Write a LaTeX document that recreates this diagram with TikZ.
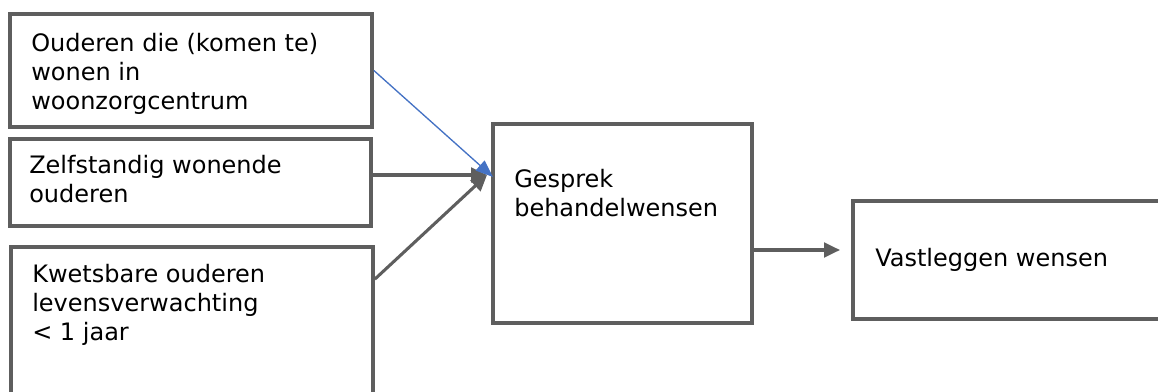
\documentclass[tikz,border=0pt]{standalone}
\usepackage{fontspec}
\setmainfont{DejaVu Sans}
\usetikzlibrary{fit,arrows.meta,calc}
\definecolor{linegray}{HTML}{5E5E5E}
\definecolor{arrowblue}{HTML}{4472C4}
\tikzset{
  box/.style={draw=linegray, line width=2.8pt, inner sep=0pt, rectangle},
  txt/.style={anchor=base west, inner sep=0pt, align=left, font=\fontsize{18}{21.75}\selectfont, text=black},
  grayarrow/.style={draw=linegray, line width=2.3pt, -{Triangle[length=12pt,width=11pt]}},
  bluearrow/.style={draw=arrowblue, line width=1pt, -{Triangle[length=13pt,width=10pt]}, arrowblue}
}
\begin{document}
\begin{tikzpicture}[x=0.75pt,y=-0.75pt]
\useasboundingbox (0,0) rectangle (1158,392);
\clip (0,0) rectangle (1158,392);
% boxes
\node[box, fit={(10,14) (372,127)}] (b1) {};
\node[box, fit={(10,139) (371,226)}] (b2) {};
\node[box, fit={(11,247) (373,410)}] (b3) {};
\node[box, fit={(493,124) (752,323)}] (b4) {};
\node[box, fit={(853,201) (1175,319)}] (b5) {};
% texts (base anchor = baseline of the last line)
\node[txt] (t1) at (31,110) {Ouderen die (komen te)\\wonen in\\woonzorgcentrum};
\node[txt] (t2) at (29,203) {Zelfstandig wonende\\ouderen};
\node[txt] (t3) at (32,340) {Kwetsbare ouderen\\levensverwachting\\< 1 jaar};
\node[txt] (t4) at (514,217) {Gesprek\\behandelwensen};
\node[txt] (t5) at (875,267) {Vastleggen wensen};
% connector end points
\coordinate (g4) at (487,175);
\coordinate (u4) at (493,177);
\coordinate (e5) at (840,250);
% connectors
\draw[grayarrow] (b2.east |- g4) -- (g4);
\draw[grayarrow] ($(b3.north east)+(0,34)$) -- (g4);
\draw[bluearrow] (b1.east) -- (u4);
\draw[grayarrow] (b4.east |- e5) -- (e5);
\end{tikzpicture}
\end{document}
